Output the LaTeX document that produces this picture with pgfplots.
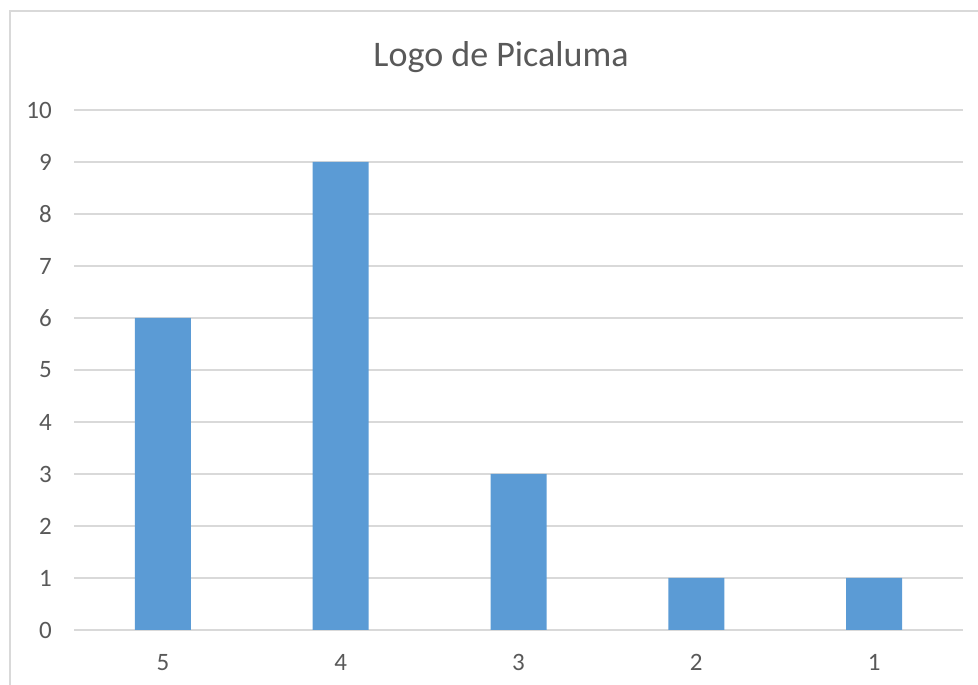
\documentclass[border=0pt]{standalone}
\usepackage{fontspec}
\setmainfont{Carlito}
\usepackage{pgfplots}
\pgfplotsset{compat=1.18}
\definecolor{barblue}{HTML}{5B9BD5}
\definecolor{txt}{HTML}{595959}
\definecolor{gridc}{HTML}{D9D9D9}
\begin{document}
\begin{tikzpicture}[x=1pt,y=1pt]
\path[use as bounding box] (0,0) rectangle (978,685);
\draw[gridc, line width=1.5pt] (10,-5) -- (10,674) -- (995,674);
\node[anchor=base, txt, font=\fontsize{36}{40}\selectfont, inner sep=0pt] at (501,618) {Logo de Picaluma};
\begin{axis}[
  at={(74pt,55pt)}, anchor=south west,
  scale only axis, width=889pt, height=520pt,
  xmin=-0.5, xmax=4.5, ymin=0, ymax=10,
  ytick={0,1,...,10}, xtick={0,1,2,3,4},
  xticklabels={5,4,3,2,1},
  ymajorgrids, grid style={gridc, line width=1.2pt},
  axis line style={draw=none},
  major tick length=0pt,
  /pgf/number format/assume math mode=true,
  tick label style={txt, font=\fontsize{25}{30}\selectfont, inner sep=0pt},
  yticklabel style={anchor=east, xshift=-22pt},
  xticklabel style={anchor=north, yshift=-24pt},
  clip=false,
]
\addplot[ybar, bar width=56pt, fill=barblue, draw=none] coordinates {(0,6) (1,9) (2,3) (3,1) (4,1)};
\end{axis}
\end{tikzpicture}
\end{document}
